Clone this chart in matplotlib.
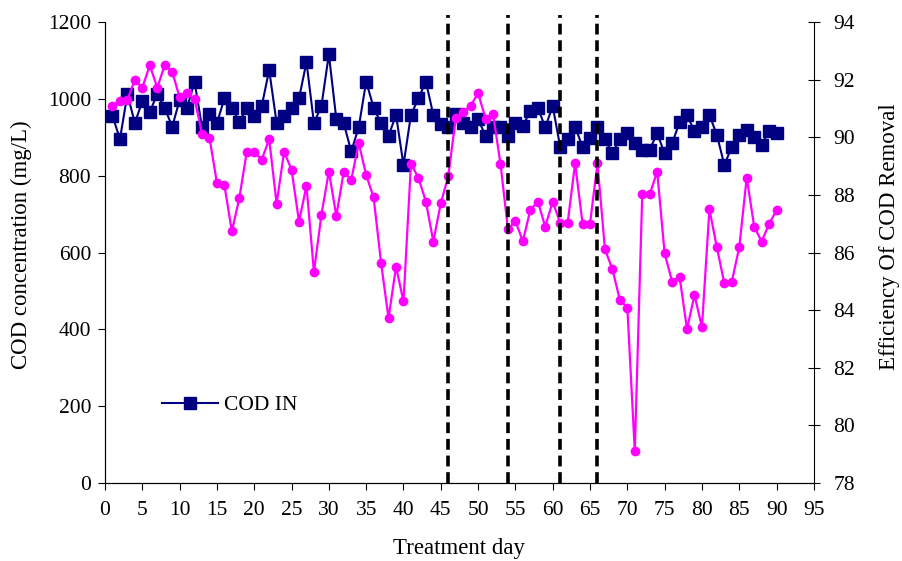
import matplotlib
matplotlib.use('Agg')
import matplotlib.pyplot as plt

plt.rcParams['font.family'] = ['Liberation Serif', 'DejaVu Serif']
plt.rcParams['font.size'] = 15.5

days = list(range(1, 91))

cod_in = [956, 895, 1012, 937, 994, 966, 1012, 977, 927, 997,
          977, 1044, 927, 960, 937, 1001, 977, 939, 977, 955,
          981, 1075, 937, 956, 977, 1001, 1096, 937, 981, 1116,
          947, 936, 863, 926, 1045, 977, 936, 904, 958, 828,
          958, 1001, 1045, 958, 934, 926, 960, 936, 926, 947,
          904, 926, 926, 904, 936, 929, 969, 977, 926, 981,
          875, 896, 927, 875, 897, 927, 895, 858, 895, 910,
          884, 868, 868, 910, 858, 884, 939, 958, 916, 927,
          958, 906, 828, 875, 906, 920, 900, 880, 917, 910]

efficiency = [91.09, 91.26, 91.30, 91.99, 91.72, 92.50, 91.72, 92.50, 92.28, 91.38,
              91.53, 91.33, 90.12, 89.99, 88.41, 88.34, 86.73, 87.89, 89.50, 89.50,
              89.22, 89.93, 87.69, 89.50, 88.87, 87.07, 88.32, 85.32, 87.31, 88.81,
              87.27, 88.81, 88.52, 89.80, 88.69, 87.91, 85.63, 83.72, 85.51, 84.30,
              89.07, 88.60, 87.77, 86.38, 87.71, 88.64, 90.66, 90.89, 91.09, 91.53,
              90.65, 90.81, 89.08, 86.81, 87.09, 86.39, 87.48, 87.77, 86.90, 87.77,
              87.02, 87.02, 89.10, 87.00, 87.00, 89.10, 86.11, 85.42, 84.35, 84.09,
              79.11, 88.02, 88.02, 88.81, 85.97, 84.99, 85.16, 83.34, 84.53, 83.41,
              87.50, 86.18, 84.93, 84.99, 86.18, 88.60, 86.90, 86.38, 87.00, 87.46]

phase_days = [46, 54, 61, 66]

fig = plt.figure(figsize=(9.03, 5.61), dpi=100)
ax = fig.add_axes([0.1163, 0.139, 0.785, 0.8218])
ax2 = ax.twinx()

ax.plot(days, cod_in, color='#000080', linewidth=1.5, marker='s',
        markersize=8.5, label='COD IN')
ax2.plot(days, efficiency, color='#FF00FF', linewidth=1.6, marker='o',
         markersize=7, markeredgewidth=0)

for d in phase_days:
    ax2.axvline(d, ymin=0, ymax=1.015, color='black', linewidth=2.6,
                linestyle=(0, (3, 1.6)), clip_on=False, zorder=5)

ax.set_xlim(0, 95)
ax.set_ylim(0, 1200)
ax2.set_ylim(78, 94)
ax.set_xticks(range(0, 96, 5))
ax.set_yticks(range(0, 1201, 200))
ax2.set_yticks(range(78, 95, 2))

ax.set_xlabel('Treatment day', fontsize=16.5)
ax.set_ylabel('COD concentration (mg/L)', fontsize=16.5)
ax2.set_ylabel('Efficiency Of COD Removal', fontsize=16.5)
ax.xaxis.set_label_coords(0.5, -0.141, transform=ax.transAxes)
ax.yaxis.set_label_coords(-0.118, 0.516, transform=ax.transAxes)
ax2.yaxis.set_label_coords(1.107, 0.534, transform=ax.transAxes)
ax.xaxis.label.set_va('center')
ax.yaxis.label.set_va('center')
ax2.yaxis.label.set_va('center')

for a in (ax, ax2):
    a.spines['top'].set_visible(False)
    a.patch.set_visible(False)
ax.spines['right'].set_visible(False)
ax.tick_params(axis='x', direction='out', length=5, pad=8)
ax.tick_params(axis='y', direction='out', length=5, pad=5)
ax2.tick_params(axis='y', direction='inout', length=8, pad=10)

ax.legend(loc='center left', bbox_to_anchor=(0.065, 0.169), frameon=False,
          handlelength=2.6, handletextpad=0.3, borderpad=0)

fig.savefig('out.png', dpi=100)
